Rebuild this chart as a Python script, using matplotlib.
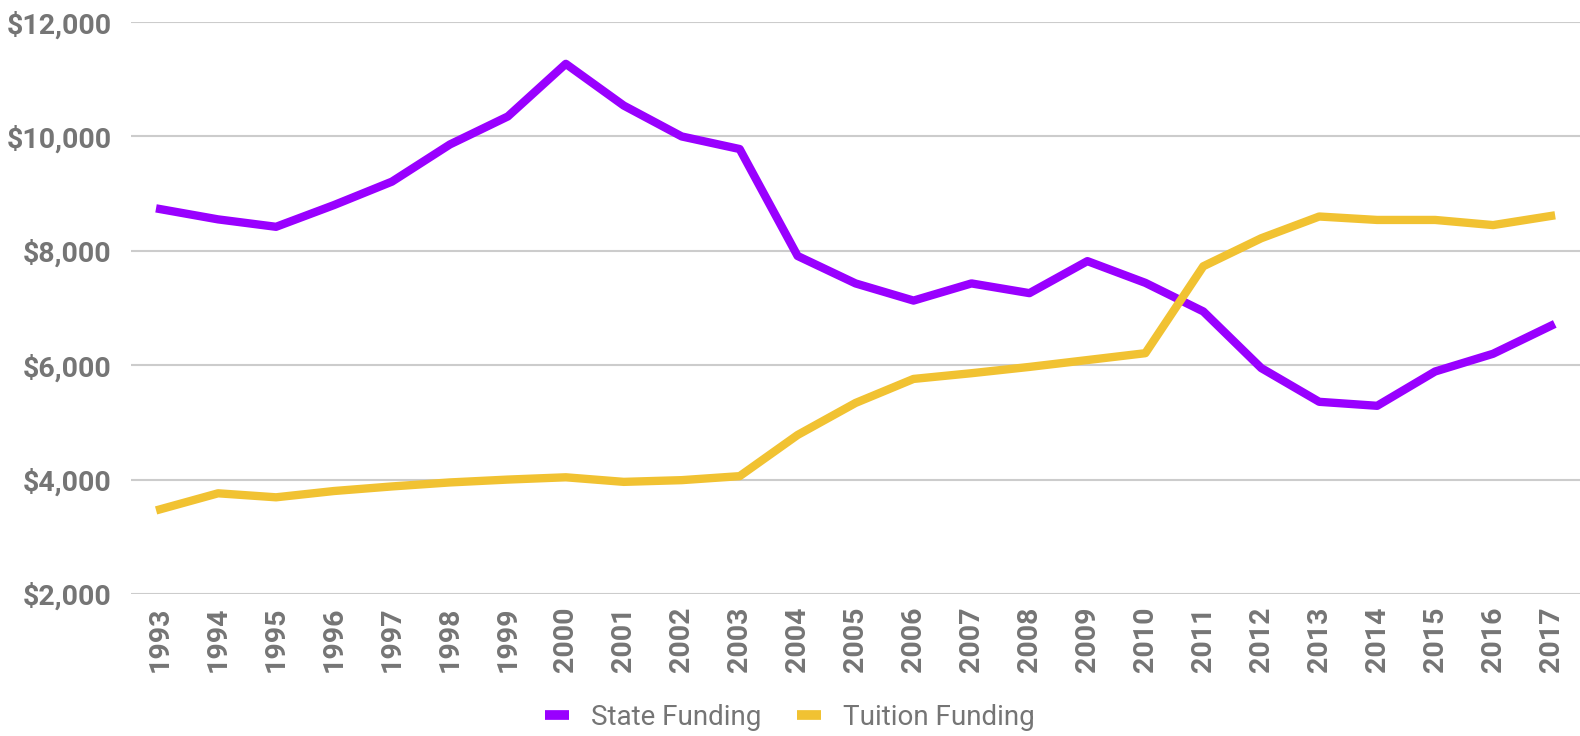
import matplotlib.pyplot as plt
from matplotlib.ticker import FuncFormatter

years = list(range(1993, 2018))
state_funding = [8730, 8550, 8420, 8800, 9210, 9860, 10350, 11270, 10540, 10000, 9780,
                 7910, 7430, 7130, 7430, 7260, 7820, 7440, 6940, 5950, 5360, 5290,
                 5890, 6200, 6690]
tuition_funding = [3480, 3760, 3690, 3800, 3880, 3950, 4000, 4040, 3960, 3990, 4060,
                   4780, 5340, 5760, 5860, 5970, 6090, 6210, 7730, 8220, 8600, 8540,
                   8540, 8450, 8610]

purple = '#9900ff'
gold = '#f1c232'
grey = '#757575'

plt.rcParams['font.family'] = ['Roboto', 'DejaVu Sans']

fig = plt.figure(figsize=(15.8, 7.36), dpi=100)
ax = fig.add_axes([0.083, 0.193, 0.917, 0.777])

ax.plot(years, state_funding, color=purple, lw=6, label='State Funding')
ax.plot(years, tuition_funding, color=gold, lw=6, label='Tuition Funding')

ax.set_ylim(2000, 12000)
ax.set_yticks(range(2000, 12001, 2000))
ax.set_xlim(1992.5, 2017.5)
ax.set_xticks(years)
ax.yaxis.set_major_formatter(FuncFormatter(lambda v, p: '${:,.0f}'.format(v)))

ax.grid(axis='y', color='#cccccc', lw=1.5)
ax.set_axisbelow(True)
for s in ax.spines.values():
    s.set_visible(False)
ax.tick_params(length=0)
ax.tick_params(axis='x', labelrotation=90, pad=9)
ax.tick_params(axis='y', pad=14)
for lab in ax.get_xticklabels() + ax.get_yticklabels():
    lab.set_fontsize(20.5)
    lab.set_fontweight('bold')
    lab.set_color(grey)

# legend sits under the rotated year labels
leg = fig.legend(loc='center', bbox_to_anchor=(0.5, 0.025), ncol=2, frameon=False,
                 fontsize=20, handlelength=0.85, handletextpad=0.8, columnspacing=1.3)
for t in leg.get_texts():
    t.set_color(grey)
for h in leg.get_lines():
    h.set_linewidth(7)
    h.set_solid_capstyle('butt')

fig.savefig('out.png', dpi=100)
